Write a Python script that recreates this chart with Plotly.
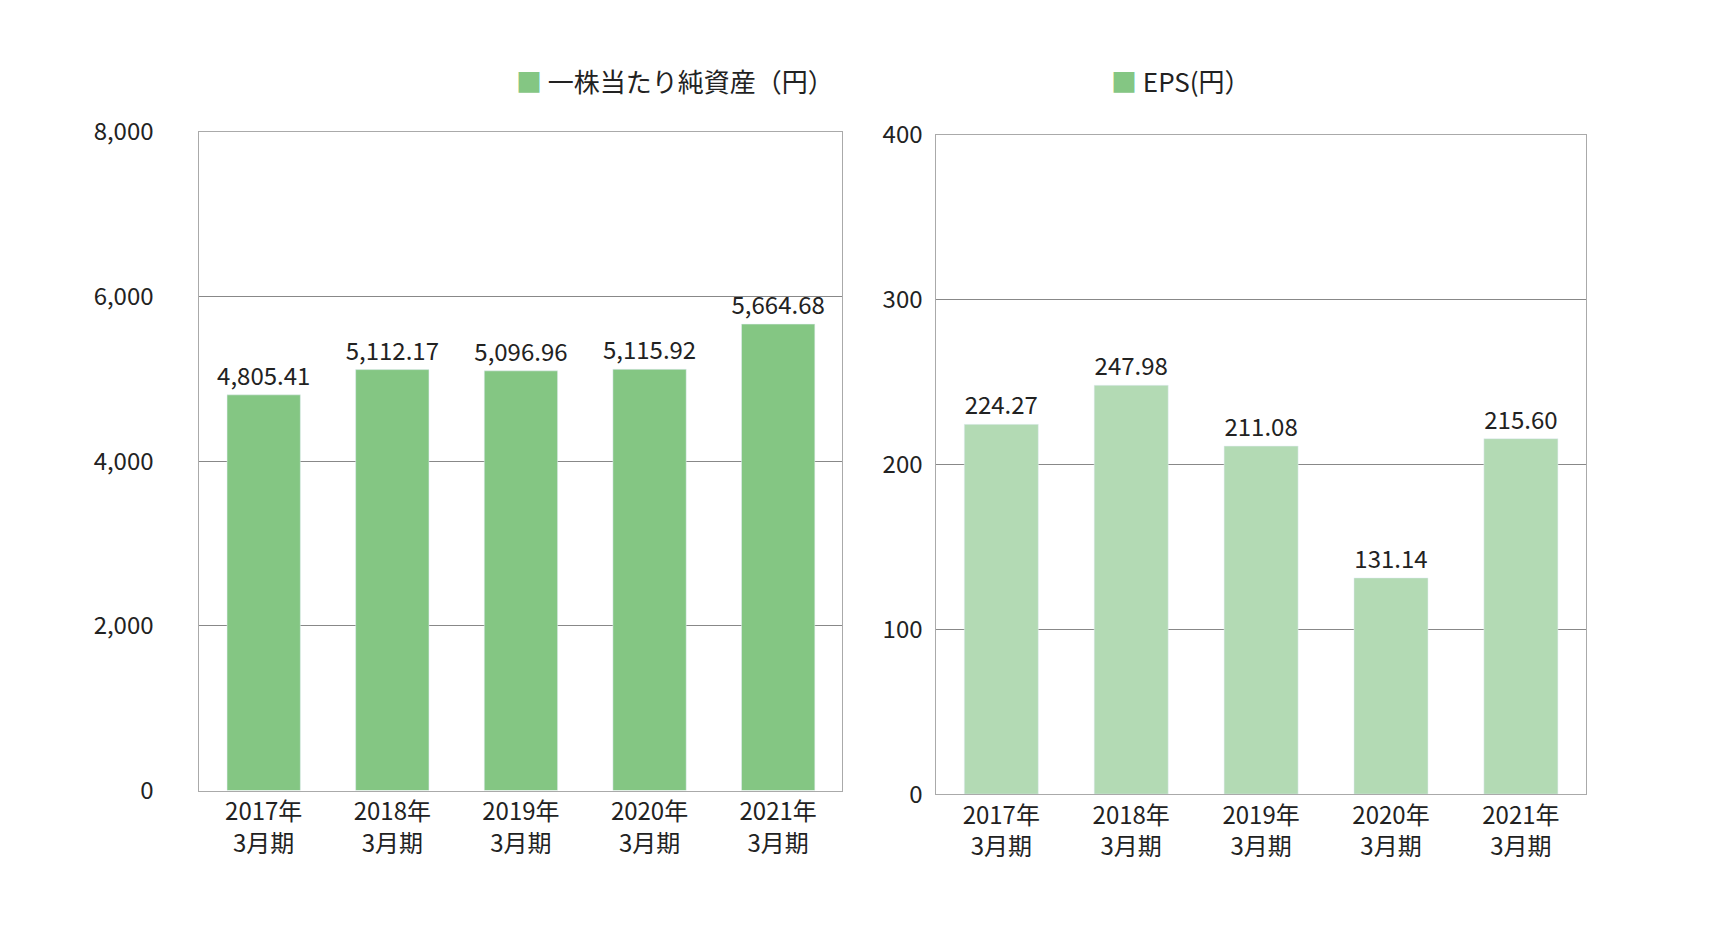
import plotly.graph_objects as go

categories = ["2017年<br>3月期", "2018年<br>3月期", "2019年<br>3月期", "2020年<br>3月期", "2021年<br>3月期"]
bps = [4805.41, 5112.17, 5096.96, 5115.92, 5664.68]
eps = [224.27, 247.98, 211.08, 131.14, 215.60]
bps_ticks = [0, 2000, 4000, 6000, 8000]
eps_ticks = [0, 100, 200, 300, 400]

font = "Noto Sans CJK JP"
fig = go.Figure()
fig.add_bar(x=categories, y=bps, marker_color="#84c683", width=0.57,
            text=[f"{v:,.2f}" for v in bps], textposition="outside", constraintext="none",
            textfont=dict(size=24, color="#222"), cliponaxis=False, xaxis="x", yaxis="y", showlegend=False)
fig.add_bar(x=categories, y=eps, marker_color="#b3dab4", width=0.57,
            text=[f"{v:,.2f}" for v in eps], textposition="outside", constraintext="none",
            textfont=dict(size=24, color="#222"), cliponaxis=False, xaxis="x2", yaxis="y2", showlegend=False)

ax = dict(showline=True, linecolor="#aaa", mirror=True, ticks="", tickfont=dict(size=24, color="#222"))
fig.update_layout(
    width=1732, height=946, plot_bgcolor="white", paper_bgcolor="white",
    font=dict(family=font, color="#222"),
    margin=dict(l=0, r=0, t=0, b=0),
    xaxis=dict(domain=[0.1105, 0.4818], anchor="y", **ax),
    yaxis=dict(domain=[0.163, 0.886], range=[0, 8000], tickvals=bps_ticks, tickformat=",",
               anchor="x", gridcolor="#888", gridwidth=1, ticklabelstandoff=40, **ax),
    xaxis2=dict(domain=[0.536, 0.911], anchor="y2", **ax),
    yaxis2=dict(domain=[0.159, 0.883], range=[0, 400], tickvals=eps_ticks,
                anchor="x2", gridcolor="#888", gridwidth=1, ticklabelstandoff=8, **ax),
    annotations=[
        dict(text="<span style='color:#84c683'>■</span> 一株当たり純資産（円）", x=0.292, y=0.965,
             xref="paper", yref="paper", showarrow=False, font=dict(size=26)),
        dict(text="<span style='color:#84c683'>■</span> EPS(円）", x=0.719, y=0.965,
             xref="paper", yref="paper", showarrow=False, font=dict(size=26)),
    ],
)
fig.write_html("out.html")
